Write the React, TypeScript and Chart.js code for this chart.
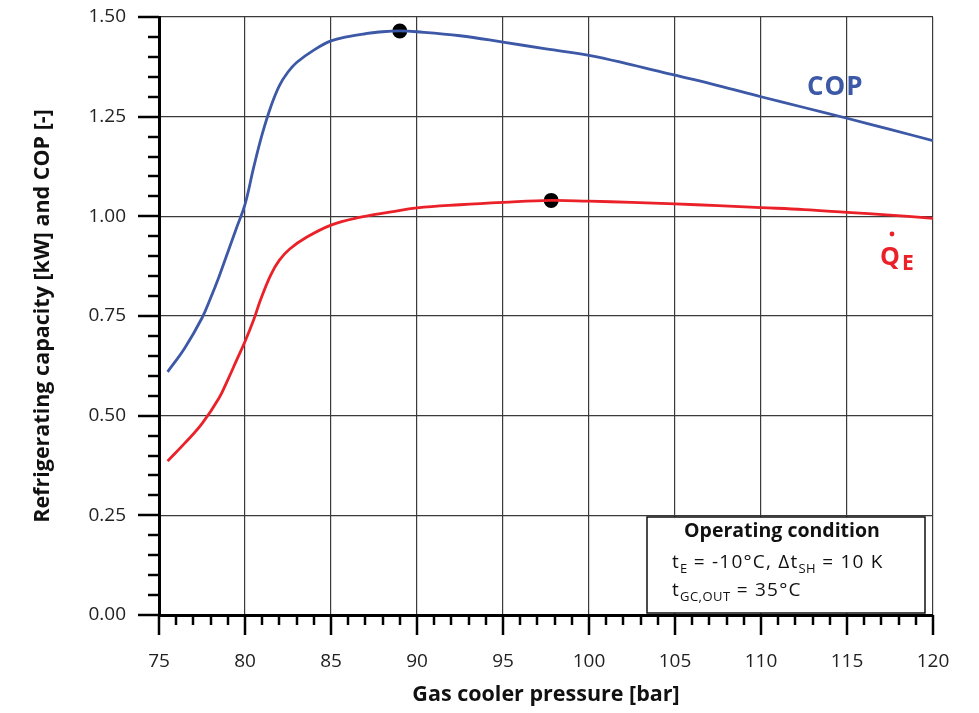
import React, { useEffect, useRef } from "react";
import { Chart, registerables } from "chart.js";

Chart.register(...registerables);

// Gas cooler pressure [bar] for the curves
const copPressure = [75.5, 76.5, 77.5, 78, 78.5, 79, 79.5, 80, 80.5, 81, 81.5, 82, 82.5, 83, 84, 85, 86, 87, 88, 89, 90, 92.5, 95, 97.5, 100, 102.5, 105, 107.5, 110, 112.5, 115, 117.5, 120];
const copValues = [0.61, 0.67, 0.745, 0.795, 0.85, 0.91, 0.97, 1.03, 1.122, 1.206, 1.275, 1.328, 1.362, 1.386, 1.417, 1.44, 1.451, 1.458, 1.463, 1.465, 1.463, 1.453, 1.437, 1.42, 1.404, 1.38, 1.354, 1.328, 1.3, 1.273, 1.246, 1.218, 1.19];

const qePressure = [75.5, 76.5, 77.5, 78.5, 79, 79.5, 80, 80.5, 80.9, 81.5, 82, 82.6, 83.6, 85, 86.5, 88.5, 90, 92.5, 95, 97.8, 100, 102.5, 105, 107.5, 110, 112.5, 115, 117.5, 120];
const qeValues = [0.386, 0.431, 0.48, 0.545, 0.59, 0.638, 0.686, 0.74, 0.79, 0.853, 0.89, 0.918, 0.948, 0.978, 0.996, 1.011, 1.021, 1.029, 1.035, 1.04, 1.038, 1.035, 1.031, 1.027, 1.022, 1.017, 1.01, 1.003, 0.995];

// Optimum points
const optimumPressure = [89.0, 97.8];
const optimumValues = [1.465, 1.04];

const xTitle = "Gas cooler pressure [bar]";
const yTitle = "Refrigerating capacity [kW] and COP [-]";

const BLUE = "#3c58a6";
const RED = "#ea2128";
const FONT = "'Open Sans', 'DejaVu Sans', sans-serif";

const ticksPlugin = {
  id: "customTicks",
  afterDraw(chart: any) {
    const ctx = chart.ctx;
    const xs = chart.scales.x;
    const ys = chart.scales.y;
    const area = chart.chartArea;
    ctx.save();
    ctx.strokeStyle = "#000";
    ctx.lineWidth = 2.5;
    ctx.lineCap = "butt";
    for (let v = 75; v <= 120; v += 1) {
      const px = Math.round(xs.getPixelForValue(v));
      const len = v % 5 === 0 ? 20 : 10;
      ctx.beginPath();
      ctx.moveTo(px, area.bottom);
      ctx.lineTo(px, area.bottom + len);
      ctx.stroke();
    }
    for (let i = 0; i <= 30; i++) {
      const v = i * 0.05;
      const py = Math.round(ys.getPixelForValue(v));
      const len = i % 5 === 0 ? 21 : 11;
      ctx.beginPath();
      ctx.moveTo(area.left, py);
      ctx.lineTo(area.left - len, py);
      ctx.stroke();
    }

    // Curve labels
    ctx.fillStyle = BLUE;
    ctx.font = `bold 26px ${FONT}`;
    ctx.textBaseline = "alphabetic";
    ctx.textAlign = "left";
    (ctx as any).letterSpacing = "1px";
    ctx.fillText("COP", 807, 95);
    (ctx as any).letterSpacing = "0px";

    ctx.fillStyle = RED;
    ctx.font = `bold 25px ${FONT}`;
    ctx.fillText("Q", 880, 265);
    const qw = ctx.measureText("Q").width;
    ctx.font = `bold 21px ${FONT}`;
    ctx.fillText("E", 880 + qw + 2, 270);
    ctx.beginPath();
    ctx.arc(892, 234, 2.4, 0, Math.PI * 2);
    ctx.fill();

    // Operating condition box
    const bx = 647, by = 517, bw = 278, bh = 96;
    ctx.fillStyle = "#fff";
    ctx.fillRect(bx, by, bw, bh);
    ctx.strokeStyle = "#111";
    ctx.lineWidth = 1.5;
    ctx.strokeRect(bx, by, bw, bh);

    ctx.fillStyle = "#111";
    ctx.textAlign = "center";
    ctx.font = `bold 19.5px ${FONT}`;
    ctx.fillText("Operating condition", 782, 537);

    ctx.textAlign = "left";
    const drawRuns = (runs: [string, boolean][], x: number, y: number) => {
      let cx = x;
      for (const [t, sub] of runs) {
        ctx.font = sub ? `13px ${FONT}` : `19px ${FONT}`;
        (ctx as any).letterSpacing = sub ? "0.5px" : "1.2px";
        ctx.fillText(t, cx, sub ? y + 5 : y);
        cx += ctx.measureText(t).width;
      }
      (ctx as any).letterSpacing = "0px";
    };
    drawRuns([["t", false], ["E", true], [" = -10°C, Δt", false], ["SH", true], [" = 10 K", false]], 672, 568);
    drawRuns([["t", false], ["GC,OUT", true], [" = 35°C", false]], 672, 596);
    ctx.restore();
  },
};

export default function App() {
  const ref = useRef<HTMLCanvasElement>(null);
  useEffect(() => {
    if (!ref.current) return;
    const chart = new Chart(ref.current, {
      type: "line",
      data: {
        datasets: [
          {
            label: "COP",
            data: copPressure.map((x, i) => ({ x, y: copValues[i] })),
            borderColor: BLUE,
            borderWidth: 2.8,
            pointRadius: 0,
            tension: 0.4,
            fill: false,
          },
          {
            label: "QE",
            data: qePressure.map((x, i) => ({ x, y: qeValues[i] })),
            borderColor: RED,
            borderWidth: 2.8,
            pointRadius: 0,
            tension: 0.4,
            fill: false,
          },
          {
            label: "Optimum",
            data: optimumPressure.map((x, i) => ({ x, y: optimumValues[i] })),
            showLine: false,
            pointRadius: 7.5,
            pointBackgroundColor: "#000",
            pointBorderColor: "#000",
            pointBorderWidth: 0,
          },
        ],
      },
      options: {
        responsive: false,
        animation: false,
        layout: { padding: { left: 0, top: 17, right: 46, bottom: 0 } },
        plugins: { legend: { display: false }, tooltip: { enabled: false } },
        scales: {
          x: {
            type: "linear",
            min: 75,
            max: 120,
            afterFit: (s: any) => {
              s.height = 98;
              s.paddingLeft = 0;
              s.paddingRight = 0;
              s.paddingTop = 0;
              s.paddingBottom = 0;
            },
            ticks: {
              stepSize: 5,
              color: "#222",
              font: { family: FONT, size: 19 },
              padding: 35,
              maxRotation: 0,
              callback: (v: any) => String(v),
            },
            grid: { color: "#3a3a3a", lineWidth: 1.2, drawTicks: false },
            border: { display: true, color: "#000", width: 3 },
            title: {
              display: true,
              text: xTitle,
              color: "#111",
              font: { family: FONT, size: 21.5, weight: "bold" },
              padding: { top: 0, bottom: 5 },
            },
          },
          y: {
            type: "linear",
            min: 0,
            max: 1.5,
            afterFit: (s: any) => {
              s.width = 159;
              s.paddingLeft = 0;
              s.paddingRight = 0;
              s.paddingTop = 0;
              s.paddingBottom = 0;
            },
            ticks: {
              stepSize: 0.25,
              color: "#222",
              font: { family: FONT, size: 19 },
              padding: 33,
              callback: (v: any) => Number(v).toFixed(2),
            },
            grid: { color: "#3a3a3a", lineWidth: 1.2, drawTicks: false },
            border: { display: true, color: "#000", width: 3 },
            title: {
              display: true,
              text: yTitle,
              color: "#111",
              font: { family: FONT, size: 21.5, weight: "bold" },
              padding: { top: 30, bottom: 0 },
            },
          },
        },
      },
      plugins: [ticksPlugin],
    } as any);
    return () => chart.destroy();
  }, []);
  return (
    <canvas
      ref={ref}
      width={979}
      height={713}
      style={{ position: "absolute", left: 0, top: 0, width: 979, height: 713, background: "#fff" }}
    />
  );
}
